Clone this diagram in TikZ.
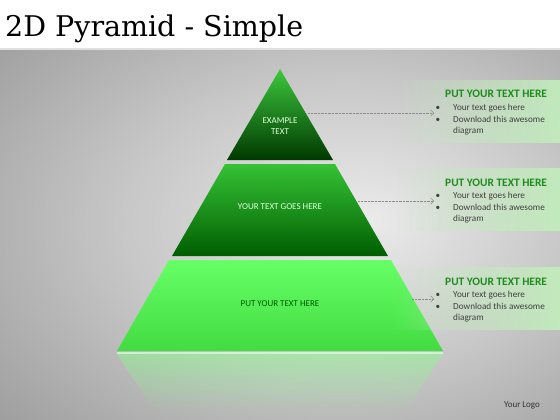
\documentclass[tikz,border=0pt]{standalone}
\usepackage{fontspec}
\setmainfont{Carlito}
\newfontfamily\titlefont{DejaVu Serif}
\usetikzlibrary{arrows.meta,fadings,positioning}
\definecolor{TopHi}{HTML}{3CC83C}
\definecolor{TopMd}{HTML}{1E8E1E}
\definecolor{TopLo}{HTML}{003800}
\definecolor{MidHi}{HTML}{36C236}
\definecolor{MidMd}{HTML}{1E9A1E}
\definecolor{MidLo}{HTML}{005E00}
\definecolor{LowHi}{HTML}{66FF66}
\definecolor{LowLo}{HTML}{42DC42}
\definecolor{HeadGreen}{HTML}{1E8C1E}
\definecolor{PanelGreen}{HTML}{C2ECBC}
\definecolor{BodyGray}{HTML}{404040}
\pgfdeclareradialshading{bgshade}{\pgfpoint{8bp}{2bp}}{color(0bp)=(black!8); color(20bp)=(black!22); color(50bp)=(black!47); color(75bp)=(black!66)}
\newcommand{\pbul}{\makebox[17.5pt][l]{\textbullet}}
\tikzset{
  title/.style={anchor=base west, inner sep=0pt, font=\titlefont\fontsize{28.5}{30}\selectfont},
  tiertext/.style={align=center, font=\fontsize{9}{10.5}\selectfont},
  panel/.style={fill=PanelGreen, fill opacity=0.95, path fading=west},
  heading/.style={anchor=base west, inner sep=0pt, text=HeadGreen, font=\bfseries\fontsize{11.4}{13}\selectfont},
  bodytext/.style={anchor=north west, inner sep=0pt, align=left, text=BodyGray, font=\fontsize{9.2}{11.5}\selectfont},
  link/.style={densely dotted, black!45, -{Straight Barb[length=3pt,width=6pt]}},
  reflect/.style={fill=LowHi!80!white, fill opacity=0.45, path fading=south}
}
\begin{document}
\begin{tikzpicture}[x=1pt,y=-1pt]
  %Khung
  \useasboundingbox (0,0) rectangle (560,420);
  \fill[white] (0,0) rectangle (560,49);
  \shade[shading=bgshade] (0,49) rectangle (560,420);
  \draw[black!12, line width=1.5pt] (0,49)--(560,49);
  %Tieu de
  \node[title] (title) at (5,37) {2D Pyramid - Simple};
  %Phan chieu
  \fill[reflect] (117,354) -- (443,354) -- (405,412) -- (155,412) -- cycle;
  \draw[white!80!LowHi, opacity=0.7, line width=2pt] (117,353)--(443,353);
  %Thap
  \shade[top color=TopHi, middle color=TopMd, bottom color=TopLo] (280,69) -- (333,160) -- (227,160) -- cycle;
  \shade[top color=MidHi, middle color=MidMd, bottom color=MidLo] (225,164) -- (335,164) -- (388,256) -- (172,256) -- cycle;
  \shade[top color=LowHi, bottom color=LowLo] (169,260) -- (391,260) -- (443,351) -- (117,351) -- cycle;
  \node[tiertext, text=green!12!white] (labone) at (280,126) {EXAMPLE\\TEXT};
  \node[tiertext, text=green!12!white] (labtwo) at (280,207) {YOUR TEXT GOES HERE};
  \node[tiertext, text=green!35!black] (labthree) at (280,304) {PUT YOUR TEXT HERE};
  %Hop chu
  \foreach \y/\n in {80/one,168/two,267/three}{
    \fill[panel] (393,\y) rectangle (560,\y+63);
    \node[heading] (head\n) at (445,\y+18) {PUT YOUR TEXT HERE};
    \node[bodytext] (list\n) at (435.5,\y+24) {\pbul Your text goes here\\\pbul Download this awesome\\\hspace*{17.5pt}diagram};
  }
  %Mui ten
  \coordinate (fromone) at (308,113);
  \coordinate (toone) at (434,113);
  \coordinate (fromtwo) at (358,201);
  \coordinate (totwo) at (434,201);
  \coordinate (fromthree) at (412,299);
  \coordinate (tothree) at (434,299);
  \draw[link] (fromone) -- (toone);
  \draw[link] (fromtwo) -- (totwo);
  \draw[link] (fromthree) -- (tothree);
  %Logo
  \node[text=black!80, font=\fontsize{9}{10}\selectfont] (logo) at (522,405) {Your Logo};
\end{tikzpicture}
\end{document}
